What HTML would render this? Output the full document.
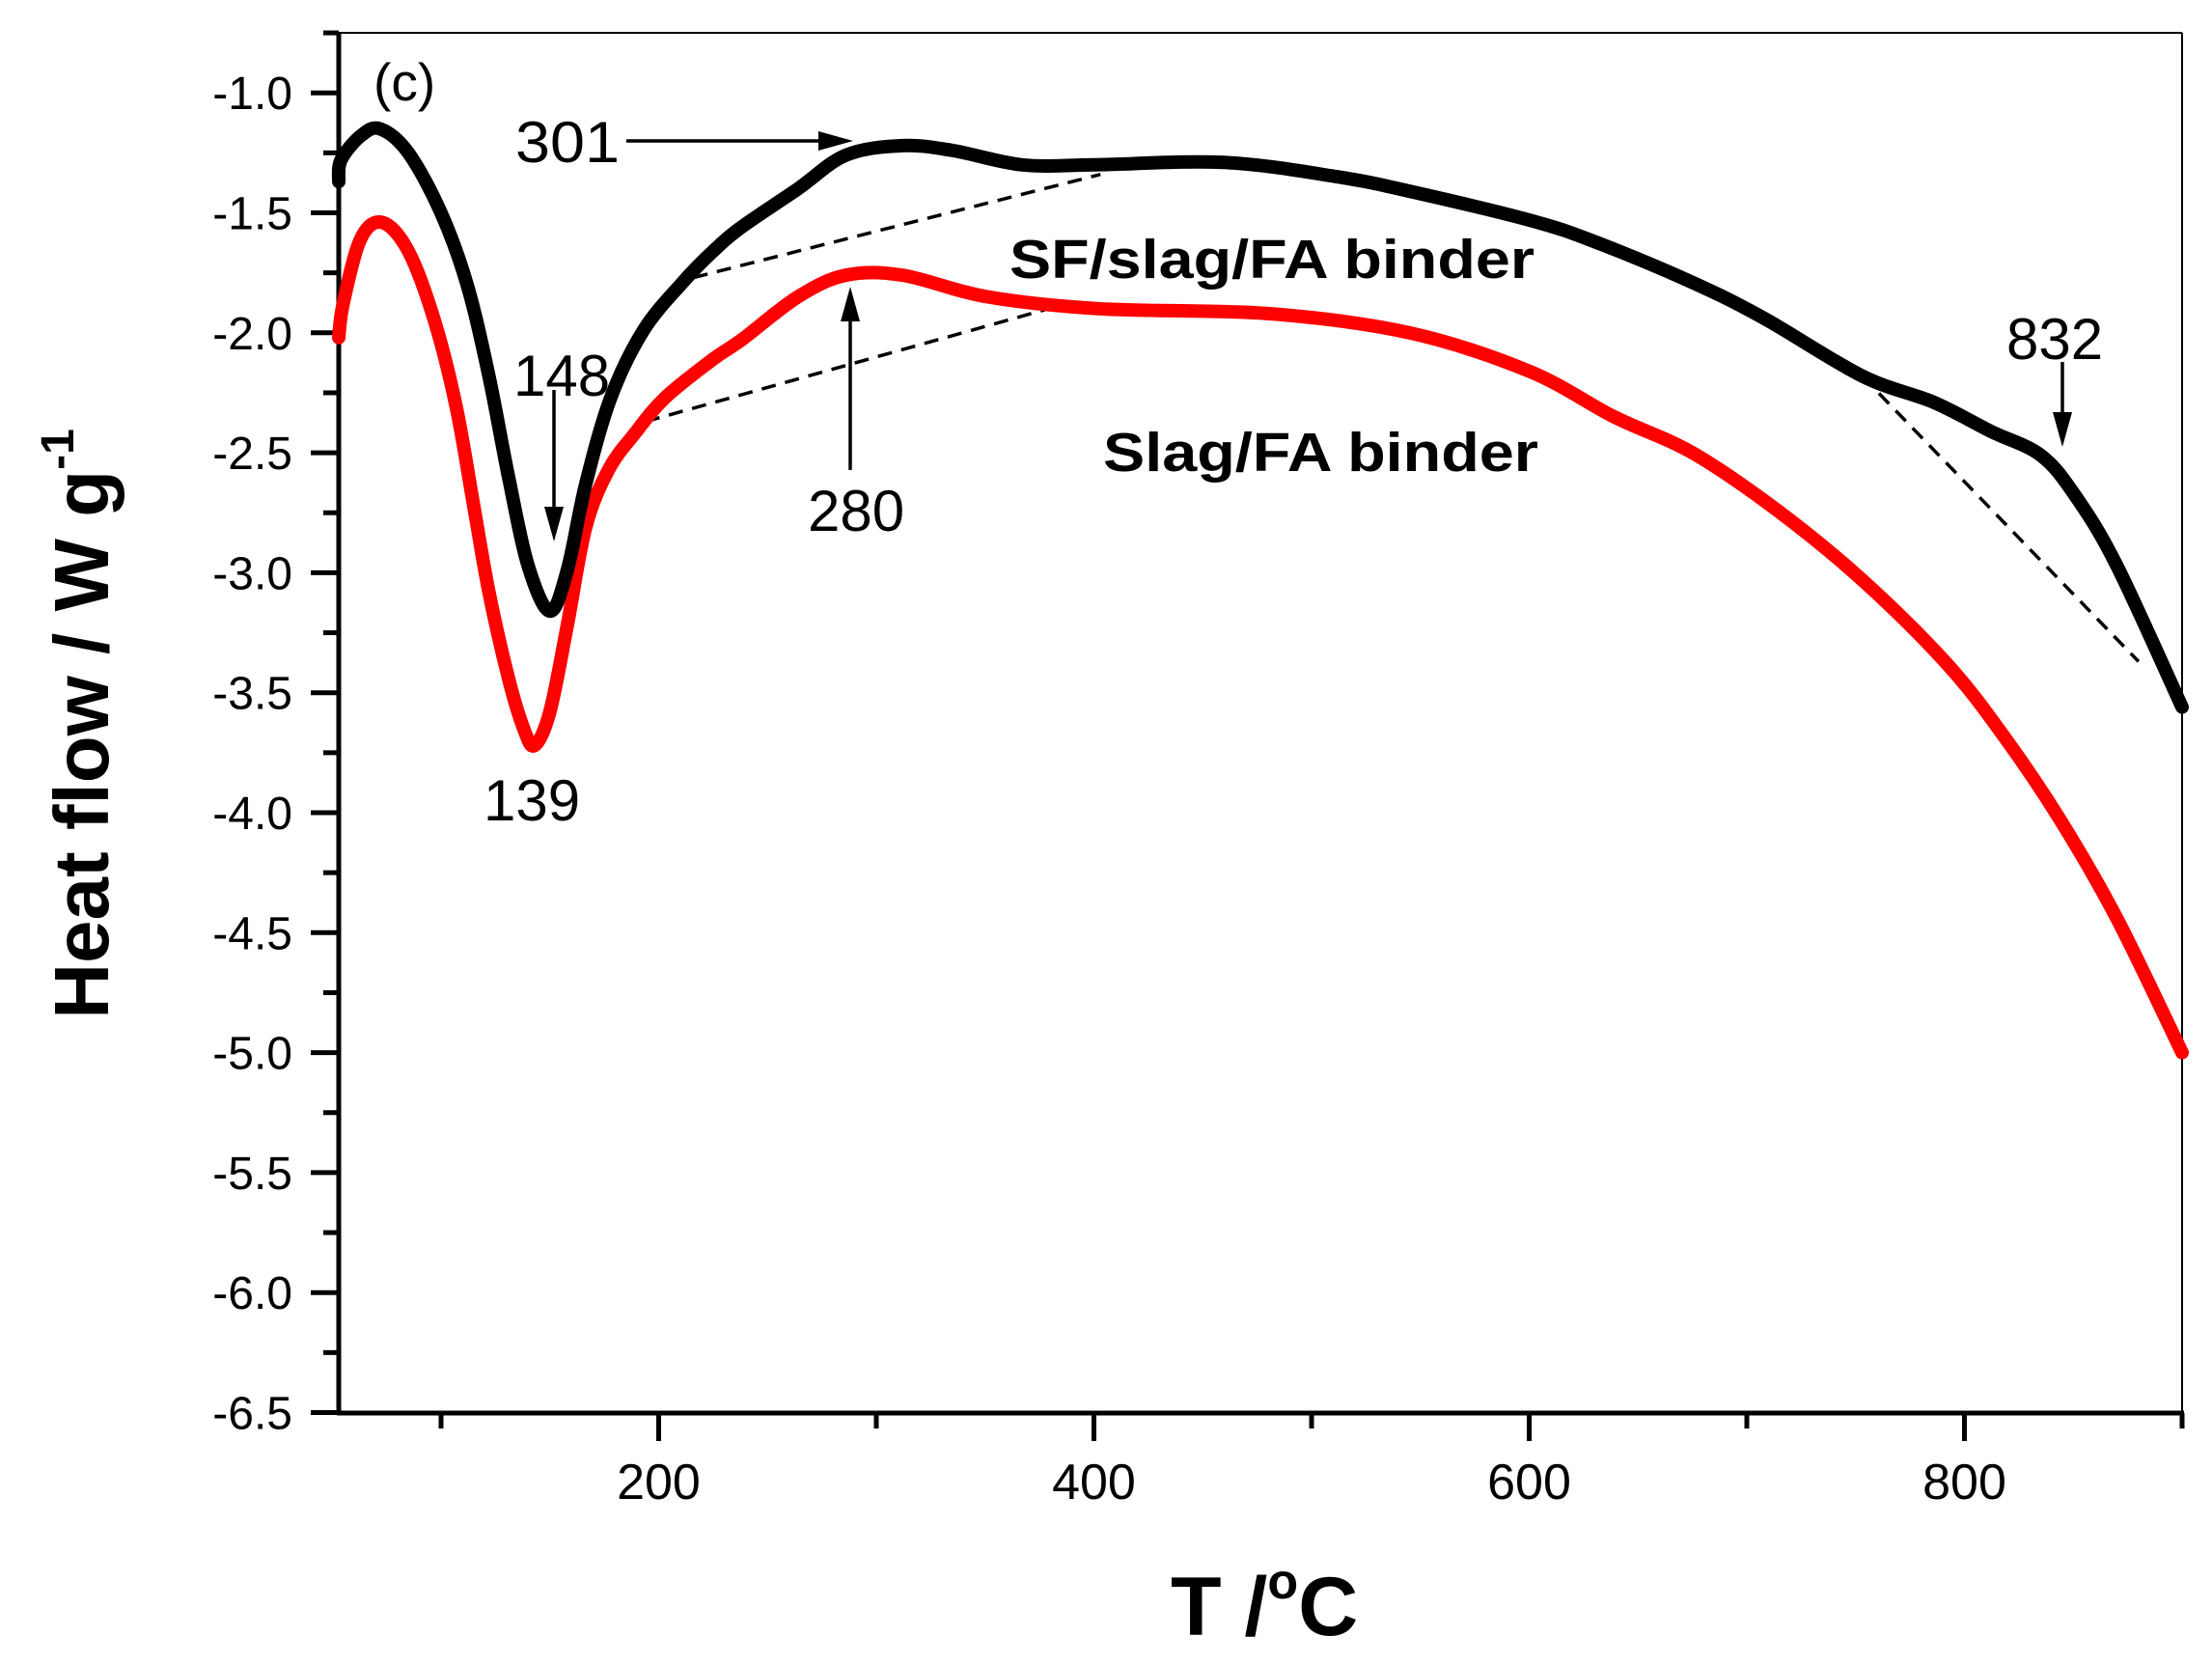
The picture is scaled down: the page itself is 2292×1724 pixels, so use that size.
<!DOCTYPE html>
<html><head><meta charset="utf-8"><style>
html,body{margin:0;padding:0;background:#fff;}
svg{display:block;font-family:"Liberation Sans",Arial,sans-serif;}
</style></head><body>
<svg id="chart" width="2292" height="1724" viewBox="0 0 2292 1724" xmlns="http://www.w3.org/2000/svg">
<g id="axes"></g>
<g id="series"></g>
<g id="annot"></g>
</svg>
<script>
const blackT=[53,54,63,72,85,100,112,122,131,140,150,158,166.5,178,193,211,225,238,264,286,312,335,367,400,460,512,545,600,630,675,708,753,786,812,835,851,870,900];
const blackV=[-1.37,-1.28,-1.18,-1.15,-1.25,-1.5,-1.8,-2.18,-2.6,-2.97,-3.16,-2.99,-2.63,-2.27,-1.99,-1.79,-1.66,-1.56,-1.4,-1.26,-1.22,-1.24,-1.3,-1.3,-1.29,-1.35,-1.41,-1.53,-1.62,-1.79,-1.94,-2.18,-2.29,-2.41,-2.51,-2.68,-2.97,-3.56];
const redT=[53,55,63,73,85,97,107,115,122,131,138,143,150,158,166.5,177,189,203,225,238,264,286,312,351,403,480,545,600,639,675,714,753,792,818,844,870,900];
const redV=[-2.02,-1.88,-1.61,-1.54,-1.66,-1.95,-2.31,-2.72,-3.08,-3.44,-3.65,-3.72,-3.58,-3.22,-2.81,-2.57,-2.42,-2.27,-2.11,-2.03,-1.85,-1.76,-1.76,-1.85,-1.9,-1.92,-2.0,-2.16,-2.35,-2.5,-2.74,-3.03,-3.38,-3.68,-4.03,-4.44,-5.0];
const xTicks=[200,400,600,800];
const xMinor=[100,300,500,700,900];
const yTicks=[-1.0,-1.5,-2.0,-2.5,-3.0,-3.5,-4.0,-4.5,-5.0,-5.5,-6.0,-6.5];
const yMinor=[-0.75,-1.25,-1.75,-2.25,-2.75,-3.25,-3.75,-4.25,-4.75,-5.25,-5.75,-6.25];
const baseLines=[[216,-1.77,403,-1.34],[194,-2.37,379,-1.9],[753,-2.18,880,-3.37]];

const X0=351,X1=2261,Y0=34,Y1=1464;
const TMIN=53,TMAX=900;
function sx(t){return X0+(t-TMIN)*(X1-X0)/(TMAX-TMIN);}
function sy(v){return 96.2+(-1.0-v)*248.6;}
const NS="http://www.w3.org/2000/svg";
function mk(tag,attrs,parent,txt){const e=document.createElementNS(NS,tag);for(const k in attrs)e.setAttribute(k,attrs[k]);if(txt!==undefined)e.textContent=txt;parent.appendChild(e);return e;}
const axes=document.getElementById('axes'),series=document.getElementById('series'),annot=document.getElementById('annot');

let e;
e=mk('line',{x1:X0,y1:Y0,x2:X1,y2:Y0,stroke:'#000','stroke-width':2},axes);

e=mk('line',{x1:X1,y1:Y0,x2:X1,y2:Y1,stroke:'#000','stroke-width':2},axes);

e=mk('line',{x1:X0,y1:Y0,x2:X0,y2:Y1+2,stroke:'#000','stroke-width':5},axes);

e=mk('line',{x1:X0-2,y1:Y1,x2:X1+2,y2:Y1,stroke:'#000','stroke-width':5},axes);


xTicks.forEach(t=>{
  e=mk('line',{x1:sx(t),y1:Y1,x2:sx(t),y2:Y1+29,stroke:'#000','stroke-width':5},axes);
  
  e=mk('text',{x:sx(t),y:1553,'font-size':52,'text-anchor':'middle'},axes,String(t));
  
});
xMinor.forEach(t=>{
  e=mk('line',{x1:sx(t),y1:Y1,x2:sx(t),y2:Y1+16,stroke:'#000','stroke-width':5},axes);
  
});
yTicks.forEach(v=>{
  e=mk('line',{x1:X0-29,y1:sy(v),x2:X0,y2:sy(v),stroke:'#000','stroke-width':5},axes);
  
  e=mk('text',{x:303,y:sy(v)+17,'font-size':48,'text-anchor':'end'},axes,v.toFixed(1));
  
});
yMinor.forEach(v=>{
  e=mk('line',{x1:X0-16,y1:sy(v),x2:X0,y2:sy(v),stroke:'#000','stroke-width':5},axes);
  
});

e=mk('text',{x:1213,y:1694,'font-size':86,'font-weight':'bold'},axes);

e.innerHTML='T /<tspan font-size="52" dy="-38">o</tspan><tspan dy="38">C</tspan>';
e=mk('text',{x:0,y:0,'font-size':80,'font-weight':'bold','text-anchor':'middle',transform:'translate(112,750) rotate(-90)'},axes);

e.innerHTML='Heat flow / W g<tspan font-size="48" dy="-36">-1</tspan>';

function path(T,V){
  const p=T.map((t,i)=>[sx(t),sy(V[i])]);
  let d='M'+p[0][0]+','+p[0][1];
  for(let i=0;i<p.length-1;i++){
    const p0=p[Math.max(0,i-1)],p1=p[i],p2=p[i+1],p3=p[Math.min(p.length-1,i+2)];
    const c1=[p1[0]+(p2[0]-p0[0])/6,p1[1]+(p2[1]-p0[1])/6];
    const c2=[p2[0]-(p3[0]-p1[0])/6,p2[1]-(p3[1]-p1[1])/6];
    d+=' C'+c1[0]+','+c1[1]+' '+c2[0]+','+c2[1]+' '+p2[0]+','+p2[1];
  }
  return d;
}
baseLines.forEach(b=>{
  e=mk('line',{x1:sx(b[0]),y1:sy(b[1]),x2:sx(b[2]),y2:sy(b[3]),stroke:'#000','stroke-width':3.5,'stroke-dasharray':'15,10'},series);
  
});
e=mk('path',{d:path(redT,redV),fill:'none',stroke:'#ff0000','stroke-width':14,'stroke-linejoin':'round','stroke-linecap':'round'},series);

e=mk('path',{d:path(blackT,blackV),fill:'none',stroke:'#000','stroke-width':14,'stroke-linejoin':'round','stroke-linecap':'round'},series);


function arrow(x1,y1,x2,y2,name){
  const g=mk('g',{},annot);
  
  const a=Math.atan2(y2-y1,x2-x1),L=36,W=10;
  const bx=x2-L*Math.cos(a),by=y2-L*Math.sin(a);
  mk('line',{x1:x1,y1:y1,x2:bx,y2:by,stroke:'#000','stroke-width':3.5},g);
  mk('polygon',{points:`${x2},${y2} ${bx-W*Math.sin(a)},${by+W*Math.cos(a)} ${bx+W*Math.sin(a)},${by-W*Math.cos(a)}`,fill:'#000'},g);
}
arrow(649,146,884,146,'arrow-301');
arrow(574,404,574,561,'arrow-148');
arrow(881,487,881,297,'arrow-280');
arrow(2137,375,2137,463,'arrow-832');

const labels=[['(c)',387,104,55,'normal','panel-label',0],['301',534,168,60,'normal','label-301',108],['148',532,410,60,'normal','label-148',0],
['139',501,850,60,'normal','label-139',0],['280',837,550,60,'normal','label-280',0],['832',2079,372,60,'normal','label-832',0],
['SF/slag/FA binder',1046,288,57,'bold','label-sf-slag-fa',544],['Slag/FA binder',1143,488,57,'bold','label-slag-fa',451]];
labels.forEach(l=>{
  const at={x:l[1],y:l[2],'font-size':l[3],'font-weight':l[4]};
  if(l[6]){at.textLength=l[6];at.lengthAdjust='spacingAndGlyphs';}
  e=mk('text',at,annot,l[0]);
  
});
</script>
</body></html>
